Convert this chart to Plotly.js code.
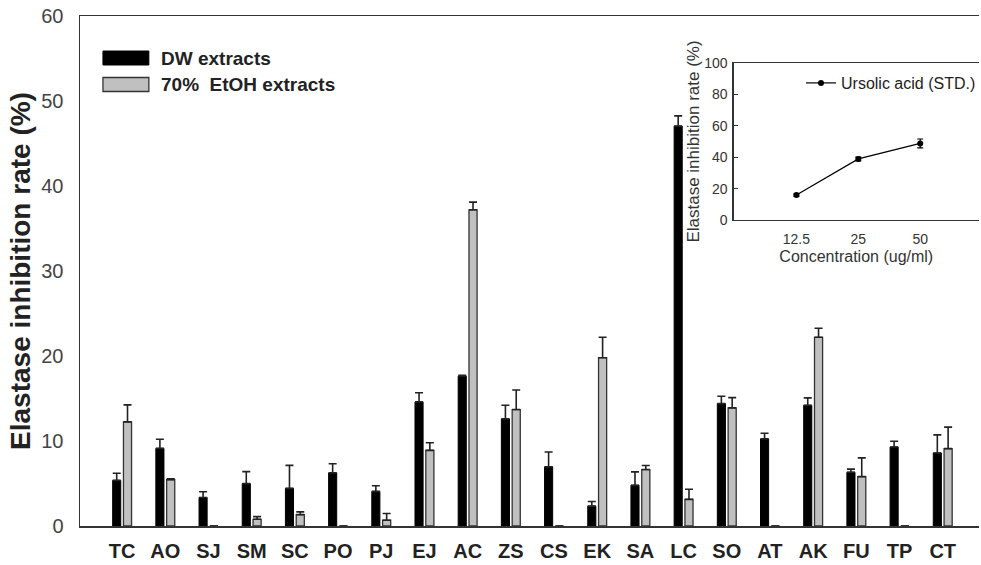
<!DOCTYPE html>
<html>
<head>
<meta charset="utf-8">
<script src="https://cdn.plot.ly/plotly-3.0.1.min.js"></script>
<style>html,body{margin:0;padding:0;background:#fff;}#chart{width:981px;height:565px;}</style>
</head>
<body>
<div id="chart"></div>
<script>
const categories = ['TC','AO','SJ','SM','SC','PO','PJ','EJ','AC','ZS','CS','EK','SA','LC','SO','AT','AK','FU','TP','CT'];
const seriesNames = ['DW extracts', '70%  EtOH extracts'];
const dwValues = [5.37, 9.13, 3.36, 4.98, 4.43, 6.25, 4.07, 14.6, 17.64, 12.6, 6.96, 2.34, 4.8, 47.05, 14.4, 10.25, 14.2, 6.33, 9.3, 8.59];
const dwErrors = [0.83, 1.07, 0.67, 1.42, 2.7, 1.07, 0.67, 1.07, 0.1, 1.6, 1.75, 0.55, 1.57, 1.2, 0.87, 0.67, 0.87, 0.36, 0.67, 2.13];
const etohValues = [12.25, 5.46, 0, 0.79, 1.34, 0, 0.68, 8.9, 37.2, 13.7, 0, 19.8, 6.64, 3.13, 13.9, 0, 22.2, 5.81, 0, 9.1];
const etohErrors = [2.0, 0.1, 0, 0.31, 0.32, 0, 0.79, 0.9, 0.9, 2.3, 0, 2.4, 0.48, 1.2, 1.2, 0, 1.07, 2.2, 0, 2.53];
const yTickValues = [0, 10, 20, 30, 40, 50, 60];

const insetCategories = ['12.5', '25', '50'];
const insetName = 'Ursolic acid (STD.)';
const insetValues = [15.9, 38.9, 48.8];
const insetErrors = [0.8, 1.2, 2.8];
const insetTickValues = [0, 20, 40, 60, 80, 100];

const FONT = 'Liberation Sans, Arial, sans-serif';

const traces = [
  {
    type: 'bar', x: categories, y: dwValues, name: seriesNames[0], showlegend: false,
    marker: {color: '#000000', line: {color: '#000000', width: 1}},
    error_y: {type: 'data', symmetric: false, array: dwErrors, arrayminus: dwValues.map(() => 0), color: '#222', thickness: 1.6, width: 4}
  },
  {
    type: 'bar', x: categories, y: etohValues, name: seriesNames[1], showlegend: false,
    marker: {color: '#c0c0c0', line: {color: '#333333', width: 1.3}},
    error_y: {type: 'data', symmetric: false, array: etohErrors, arrayminus: etohValues.map(() => 0), color: '#222', thickness: 1.6, width: 4}
  },
  {
    type: 'scatter', mode: 'lines+markers', x: insetCategories, y: insetValues, name: insetName,
    xaxis: 'x2', yaxis: 'y2', showlegend: true,
    line: {color: '#000', width: 1.2},
    marker: {color: '#000', size: 6, symbol: 'circle'},
    error_y: {type: 'data', array: insetErrors, color: '#000', thickness: 1.2, width: 3}
  }
];

const px = v => (v - 80) / 901;
const py = v => (526 - v) / 510;

const layout = {
  width: 981, height: 565,
  margin: {l: 80, r: 0, t: 16, b: 39, pad: 0},
  paper_bgcolor: '#ffffff', plot_bgcolor: 'rgba(0,0,0,0)',
  font: {family: FONT, color: '#222'},
  barmode: 'group', bargap: 0.5, bargroupgap: 0.25,
  xaxis: {
    type: 'category', range: [-0.975, 19.84], domain: [0, 1],
    showline: true, mirror: true, linecolor: '#333', linewidth: 1.5,
    showgrid: false, zeroline: false, ticks: '',
    tickfont: {family: FONT, size: 20, color: '#222', weight: 'bold'},
    ticklabelstandoff: 6
  },
  yaxis: {
    range: [0, 60], tickvals: yTickValues, domain: [0, 1],
    showline: true, linecolor: '#333', linewidth: 1.5,
    showgrid: false, zeroline: false, ticks: '',
    tickfont: {family: FONT, size: 20, color: '#444'},
    ticklabelstandoff: 11,
    title: {text: 'Elastase inhibition rate (%)', font: {family: FONT, size: 28, color: '#222', weight: 'bold'}, standoff: 2}
  },
  xaxis2: {
    type: 'category', range: [-1.016, 2.95], domain: [px(735), 1], anchor: 'y2',
    showline: true, mirror: true, linecolor: '#333', linewidth: 1.2,
    showgrid: false, zeroline: false, ticks: '',
    tickfont: {family: FONT, size: 14, color: '#333'},
    ticklabelstandoff: 6,
    title: {text: 'Concentration (ug/ml)', font: {family: FONT, size: 16, color: '#333'}, standoff: 4}
  },
  yaxis2: {
    range: [0, 100], tickvals: insetTickValues, domain: [py(220), py(63)], anchor: 'x2',
    showline: true, linecolor: '#333', linewidth: 1.2,
    showgrid: false, zeroline: false, ticks: 'inside', ticklen: 4, tickcolor: '#333', tickwidth: 1,
    tickfont: {family: FONT, size: 14, color: '#333'},
    ticklabelstandoff: 2,
    title: {text: 'Elastase inhibition rate (%)', font: {family: FONT, size: 17, color: '#333'}, standoff: 0}
  },
  showlegend: true,
  legend: {
    x: px(803), y: py(66), xanchor: 'left', yanchor: 'top',
    bgcolor: 'rgba(0,0,0,0)', borderwidth: 0,
    font: {family: FONT, size: 16, color: '#222'}
  },
  shapes: [
    {type: 'rect', xref: 'paper', yref: 'paper', x0: px(103), x1: px(149), y0: py(65), y1: py(51), fillcolor: '#000', line: {color: '#000', width: 1}},
    {type: 'rect', xref: 'paper', yref: 'paper', x0: px(103), x1: px(149), y0: py(91.5), y1: py(77.5), fillcolor: '#c0c0c0', line: {color: '#333', width: 1.3}}
  ],
  annotations: [
    {xref: 'paper', yref: 'paper', x: px(159), y: py(58), xanchor: 'left', yanchor: 'middle', showarrow: false, text: seriesNames[0], font: {family: FONT, size: 19, color: '#222', weight: 'bold'}},
    {xref: 'paper', yref: 'paper', x: px(159), y: py(85), xanchor: 'left', yanchor: 'middle', showarrow: false, text: seriesNames[1], font: {family: FONT, size: 19, color: '#222', weight: 'bold'}}
  ]
};

Plotly.newPlot('chart', traces, layout, {displayModeBar: false, staticPlot: true});
</script>
</body>
</html>
